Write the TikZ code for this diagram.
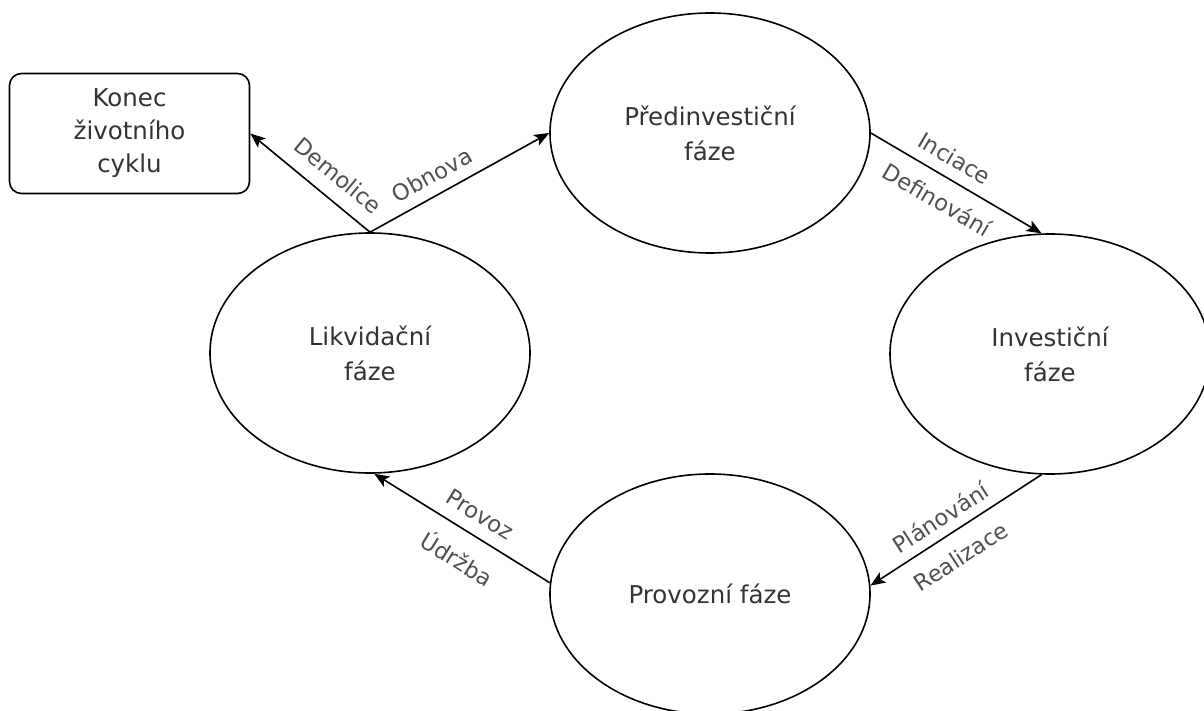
\documentclass[tikz,border=0pt]{standalone}
\usepackage{fontspec}
\setmainfont{DejaVu Sans}
\usetikzlibrary{shapes.geometric,arrows.meta}
\definecolor{ntext}{HTML}{333333}
\definecolor{ltext}{HTML}{505050}
\tikzset{
  phase/.style={ellipse, draw=black, line width=1.6pt, minimum width=320pt, minimum height=240pt,
    inner sep=0pt, align=center, text=ntext, font=\fontsize{24.5}{35}\selectfont},
  endbox/.style={rectangle, rounded corners=12pt, draw=black, line width=1.6pt, minimum width=240pt,
    minimum height=120pt, inner sep=0pt, align=center, text=ntext, font=\fontsize{24.5}{33}\selectfont},
  arr/.style={draw=black, line width=1.6pt, -{Stealth[length=15pt,width=12pt,inset=3.5pt]}},
  lblup/.style={sloped, anchor=south, inner xsep=0pt, text=ltext, font=\fontsize{22.5}{27}\selectfont},
  lbldn/.style={sloped, anchor=north, inner xsep=0pt, text=ltext, font=\fontsize{22.5}{27}\selectfont}
}
\begin{document}
\begin{tikzpicture}[x=1pt,y=-1pt]
\useasboundingbox (0,0) rectangle (1204,711);
\clip (0,0) rectangle (1204,711);
\node[phase] (P) at (710,133) {Předinvestiční\\fáze};
\node[phase] (I) at (1050,354) {Investiční\\fáze};
\node[phase] (V) at (710,594) {Provozní fáze};
\node[phase] (L) at (370,353) {Likvidační\\fáze};
\node[endbox] (K) at (129.5,133.5) {Konec\\životního\\cyklu};

\draw[arr] (L.north) -- (K.east)
  node[lblup, pos=0.39, inner ysep=14pt] {Demolice};
\draw[arr] (L.north) -- (P.west)
  node[lblup, pos=0.40, inner ysep=10.5pt] {Obnova};
\draw[arr] (P.east) -- (I.94)
  node[lblup, pos=0.43, inner ysep=11pt] {Inciace}
  node[lbldn, pos=0.46, inner ysep=13.5pt] {Definování};
\draw[arr] (I.266) -- (V.3)
  node[lblup, pos=0.53, inner ysep=9pt] {Plánování}
  node[lbldn, pos=0.55, inner ysep=15.5pt] {Realizace};
\draw[arr] (V.176) -- (L.272)
  node[lblup, pos=0.46, inner ysep=12pt] {Provoz}
  node[lbldn, pos=0.44, inner ysep=16pt] {Údržba};
\end{tikzpicture}
\end{document}
